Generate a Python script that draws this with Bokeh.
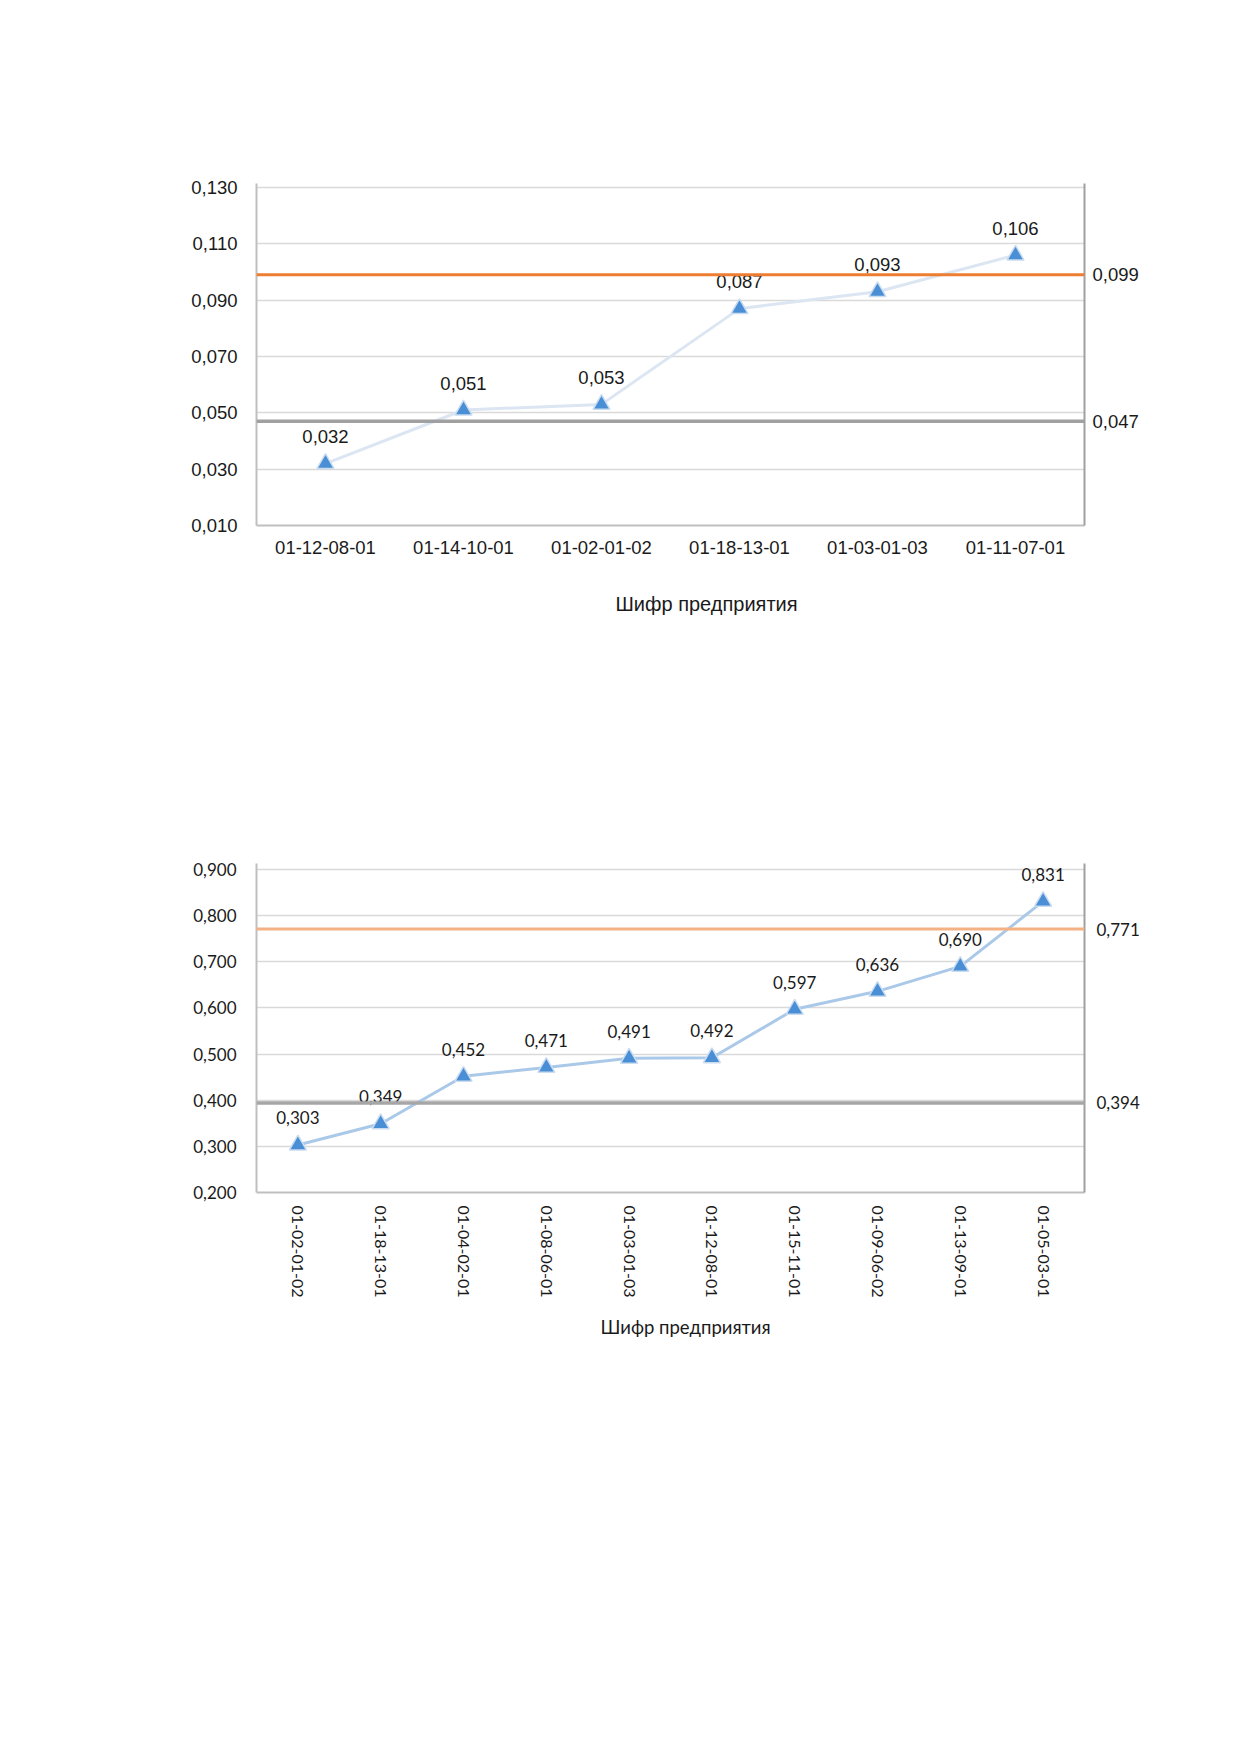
import math
from bokeh.plotting import figure
from bokeh.layouts import column
from bokeh.models import (FactorRange, Range1d, FixedTicker, CustomJSTickFormatter,
                          LinearAxis, Span, ColumnDataSource, Title)
from bokeh.core.properties import value
from bokeh.embed import file_html
from bokeh.resources import INLINE

# ---------- data: chart 1 ----------
cats1 = ["01-12-08-01", "01-14-10-01", "01-02-01-02", "01-18-13-01", "01-03-01-03", "01-11-07-01"]
vals1 = [0.032, 0.051, 0.053, 0.087, 0.093, 0.106]
upper1 = 0.099
lower1 = 0.047
yticks1 = [0.010, 0.030, 0.050, 0.070, 0.090, 0.110, 0.130]

# ---------- data: chart 2 ----------
cats2 = ["01-02-01-02", "01-18-13-01", "01-04-02-01", "01-08-06-01", "01-03-01-03",
         "01-12-08-01", "01-15-11-01", "01-09-06-02", "01-13-09-01", "01-05-03-01"]
vals2 = [0.303, 0.349, 0.452, 0.471, 0.491, 0.492, 0.597, 0.636, 0.690, 0.831]
upper2 = 0.771
lower2 = 0.394
yticks2 = [0.200, 0.300, 0.400, 0.500, 0.600, 0.700, 0.800, 0.900]

xtitle = "Шифр предприятия"

FMT = "return tick.toFixed(3).replace('.', ',');"


def fmt(v):
    return f"{v:.3f}".replace(".", ",")


def make_chart(cats, vals, upper, lower, yticks, font, fsize, xsize, title_size,
               line_col, up_col, low_col, width, height, mb_left, mb_top, frame_w, frame_h,
               top_pad, label_orient, major_standoff, ytick_standoff, right_standoff,
               title_offset, title_standoff):
    # frame_h is the height from the lowest to the highest tick; the axis lines
    # rise top_pad pixels above the highest grid line, as in the original
    span = yticks[-1] - yticks[0]
    y_end = yticks[-1] + top_pad * span / frame_h
    p = figure(x_range=FactorRange(*cats), y_range=Range1d(yticks[0], y_end),
               width=width, height=height, output_backend="svg", toolbar_location=None,
               min_border_left=mb_left, min_border_top=mb_top - top_pad,
               min_border_right=width - mb_left - frame_w,
               min_border_bottom=height - mb_top - frame_h)
    p.outline_line_color = None
    p.background_fill_color = "white"
    p.border_fill_color = "white"

    # grid
    p.xgrid.grid_line_color = None
    p.ygrid.ticker = FixedTicker(ticks=yticks)
    p.ygrid.grid_line_color = "#d9d9d9"
    p.ygrid.grid_line_width = 1.5

    # y axis
    p.yaxis.ticker = FixedTicker(ticks=yticks)
    p.yaxis.formatter = CustomJSTickFormatter(code=FMT)
    p.yaxis.major_tick_line_color = None
    p.yaxis.minor_tick_line_color = None
    p.yaxis.axis_line_color = "#bfbfbf"
    p.yaxis.axis_line_width = 2
    p.yaxis.major_label_text_font = font
    p.yaxis.major_label_text_font_size = f"{fsize}px"
    p.yaxis.major_label_text_color = "#1a1a1a"
    p.yaxis.major_label_standoff = ytick_standoff

    # x axis
    p.xaxis.major_tick_line_color = None
    p.xaxis.minor_tick_line_color = None
    p.xaxis.axis_line_color = "#bfbfbf"
    p.xaxis.axis_line_width = 2
    p.xaxis.major_label_text_font = font
    p.xaxis.major_label_text_font_size = f"{xsize}px"
    p.xaxis.major_label_text_color = "#1a1a1a"
    p.xaxis.major_label_orientation = label_orient
    p.xaxis.major_label_standoff = major_standoff

    # axis title below the category labels, slightly right of the frame centre
    p.add_layout(Title(text=xtitle, align="left", offset=title_offset,
                       standoff=title_standoff, text_font=font,
                       text_font_size=f"{title_size}px", text_font_style="normal",
                       text_color="#1a1a1a"), "below")

    # right axis with reference values
    ra = LinearAxis(ticker=FixedTicker(ticks=[lower, upper]),
                    formatter=CustomJSTickFormatter(code=FMT))
    ra.major_tick_line_color = None
    ra.minor_tick_line_color = None
    ra.axis_line_color = "#a0a0a0"
    ra.axis_line_width = 2
    ra.major_label_text_font = font
    ra.major_label_text_font_size = f"{fsize}px"
    ra.major_label_text_color = "#1a1a1a"
    ra.major_label_standoff = right_standoff
    p.add_layout(ra, "right")

    # reference lines
    p.add_layout(Span(location=upper, dimension="width", line_color=up_col, line_width=3))
    p.add_layout(Span(location=lower, dimension="width", line_color=low_col, line_width=3.5))

    src = ColumnDataSource(dict(x=cats, y=vals, t=[fmt(v) for v in vals]))
    p.line("x", "y", source=src, line_color=line_col, line_width=3)
    p.scatter("x", "y", source=src, marker="triangle", size=17,
              fill_color="#4a8fd6", line_color="#c9dcf0", line_width=1.5)
    p.text("x", "y", text="t", source=src, text_font=value(font),
           text_font_size=f"{fsize}px", text_color="#1a1a1a",
           text_align="center", text_baseline="middle", y_offset=-27)
    return p


p1 = make_chart(cats1, vals1, upper1, lower1, yticks1, "Liberation Sans", 18.5, 18.5, 20,
                "#dbe6f2", "#ed7d31", "#a0a0a0",
                1224, 668, 256, 187, 831, 338, 4, "horizontal", 9, 13, 2,
                359, 69)
p2 = make_chart(cats2, vals2, upper2, lower2, yticks2, "Lato", 17, 16, 18.5,
                "#aac8e8", "#f4b183", "#a6a6a6",
                1224, 760, 253, 201, 831, 323, 6, -math.pi / 2, 7, 14, 6,
                344, 27)

layout = column(p1, p2, spacing=0)
open("out.html", "w").write(file_html(layout, INLINE))
